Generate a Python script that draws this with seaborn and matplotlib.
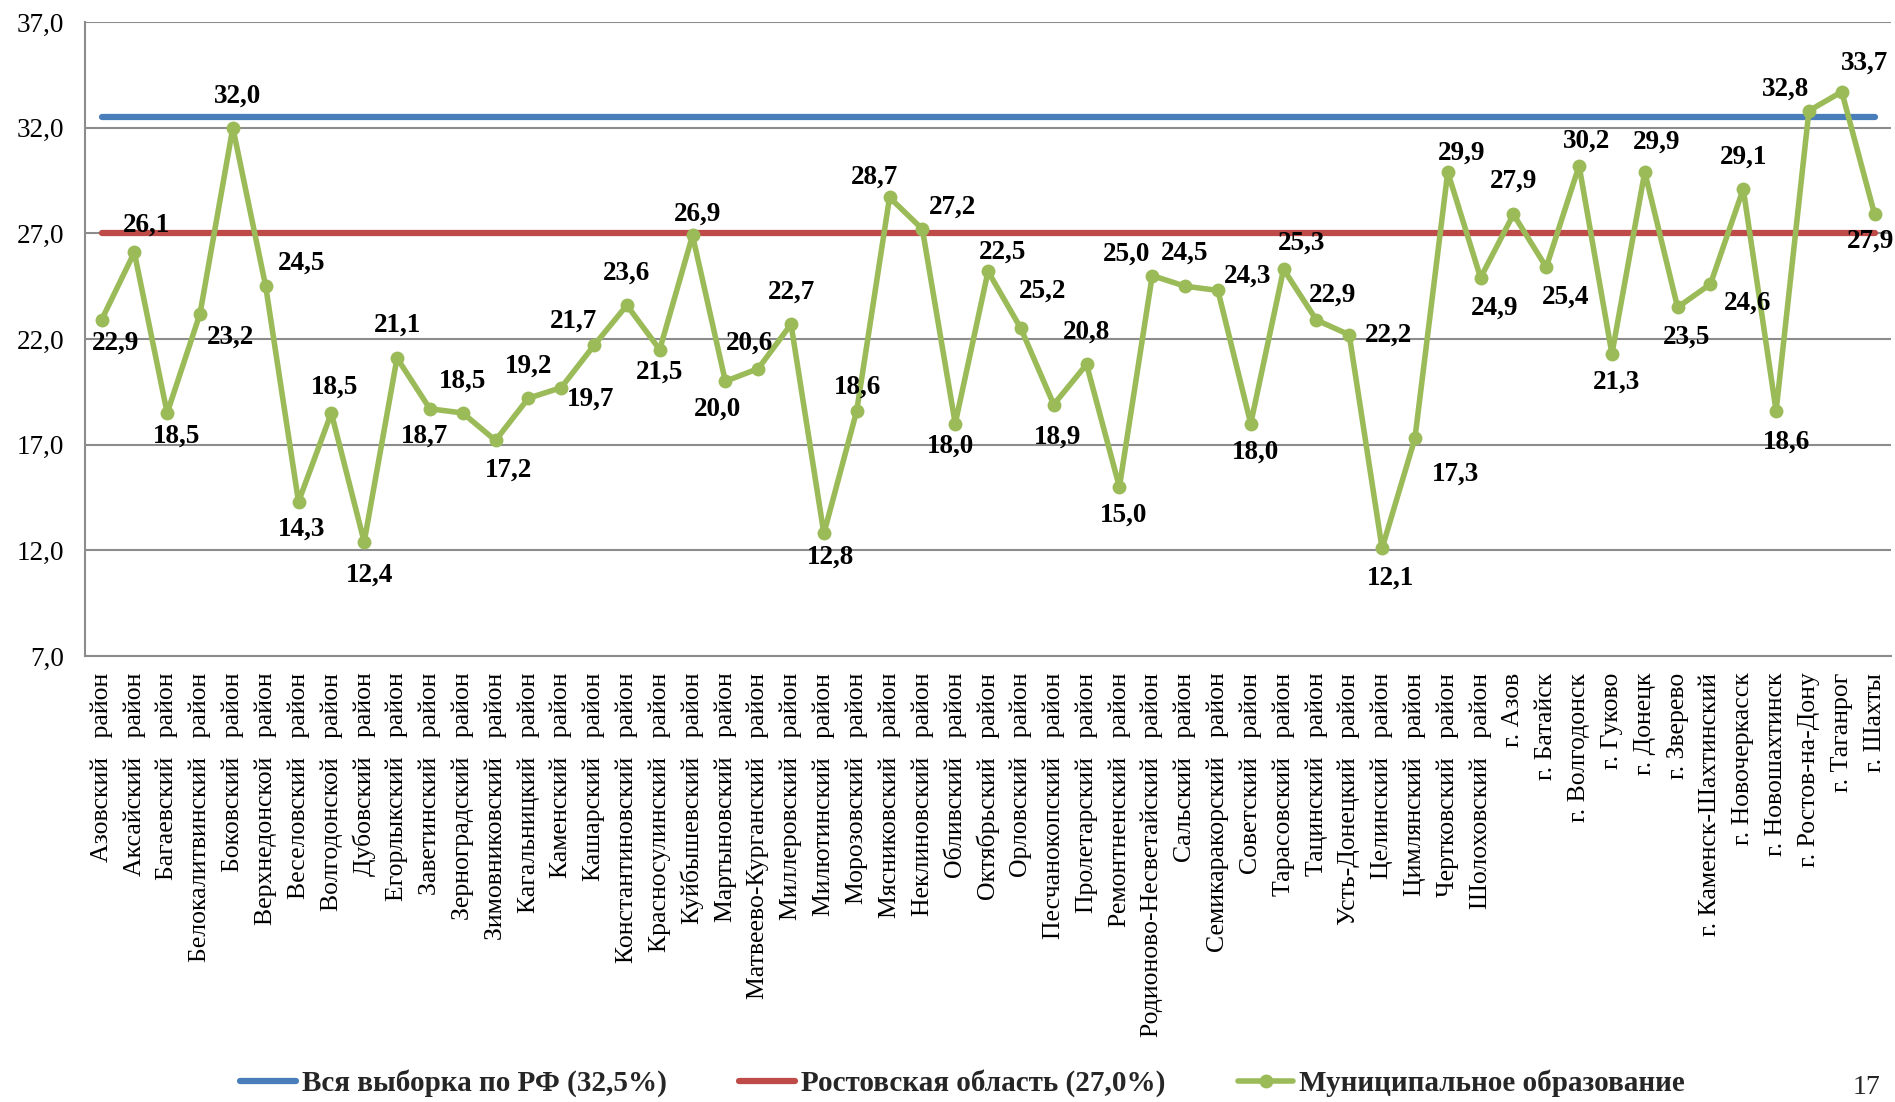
import numpy as np
import pandas as pd
from matplotlib import pyplot as plt
from matplotlib.lines import Line2D
from matplotlib.ticker import FuncFormatter
import seaborn as sns

districts = [
    "Азовский район", "Аксайский район", "Багаевский район", "Белокалитвинский район",
    "Боковский район", "Верхнедонской район", "Веселовский район", "Волгодонской район",
    "Дубовский район", "Егорлыкский район", "Заветинский район", "Зерноградский район",
    "Зимовниковский район", "Кагальницкий район", "Каменский район", "Кашарский район",
    "Константиновский район", "Красносулинский район", "Куйбышевский район",
    "Мартыновский район", "Матвеево-Курганский район", "Миллеровский район",
    "Милютинский район", "Морозовский район", "Мясниковский район", "Неклиновский район",
    "Обливский район", "Октябрьский район", "Орловский район", "Песчанокопский район",
    "Пролетарский район", "Ремонтненский район", "Родионово-Несветайский район",
    "Сальский район", "Семикаракорский район", "Советский район", "Тарасовский район",
    "Тацинский район", "Усть-Донецкий район", "Целинский район", "Цимлянский район",
    "Чертковский район", "Шолоховский район", "г. Азов", "г. Батайск", "г. Волгодонск",
    "г. Гуково", "г. Донецк", "г. Зверево", "г. Каменск-Шахтинский", "г. Новочеркасск",
    "г. Новошахтинск", "г. Ростов-на-Дону", "г. Таганрог", "г. Шахты",
]
values = [
    22.9, 26.1, 18.5, 23.2, 32.0, 24.5, 14.3, 18.5, 12.4, 21.1, 18.7, 18.5, 17.2, 19.2,
    19.7, 21.7, 23.6, 21.5, 26.9, 20.0, 20.6, 22.7, 12.8, 18.6, 28.7, 27.2, 18.0, 25.2,
    22.5, 18.9, 20.8, 15.0, 25.0, 24.5, 24.3, 18.0, 25.3, 22.9, 22.2, 12.1, 17.3, 29.9,
    24.9, 27.9, 25.4, 30.2, 21.3, 29.9, 23.5, 24.6, 29.1, 18.6, 32.8, 33.7, 27.9,
]
rf_level = 32.5
region_level = 27.0
series_names = ["Вся выборка по РФ (32,5%)", "Ростовская область (27,0%)",
                "Муниципальное образование"]

# label placement relative to each point, pixels (dx right, dy down)
label_dx = [14, 12, 9, 30, 5, 36, 3, 3, 5, 0, -5, 0, 13, 0, 29, -21, 0, 0, 5,
            -8, -9, 0, 7, 1, -15, 30, -5, 55, -18, 4, 0, 4, -26, 0, 30, 5, 18, 16,
            39, 8, 41, 14, 14, 0, 19, 7, 5, 12, 9, 37, 0, 10, -23, 23, -4]
label_dy = [23, -27, 23, 24, -32, -23, 27, -26, 33, -33, 27, -32, 30, -32, 12, -24, -32,
            23, -21, 28, -25, -32, 24, -24, -20, -22, 23, 20, -76, 33, -32, 28, -21,
            -33, -14, 29, -26, -25, 0, 30, 36, -19, 30, -33, 30, -25, 28, -30, 30, 19,
            -32, 31, -22, -29, 27]

blue = "#4a7ebb"
red = "#be4b48"
green = "#9bbb59"
grey = "#8c8c8c"

n = len(districts)
df = pd.DataFrame({"pos": np.arange(n), "name": districts, "value": values})
df["rf"] = rf_level
df["region"] = region_level

sns.set_theme(style="white")
plt.rcParams["font.family"] = ["Liberation Serif", "DejaVu Serif"]

fig = plt.figure(figsize=(18.95, 11.02), dpi=100)
ax = fig.add_axes([0.0449, 0.4047, 0.953, 0.5753])

sns.lineplot(data=df, x="pos", y="rf", color=blue, lw=4.5, ax=ax,
             solid_capstyle="round", zorder=3)
sns.lineplot(data=df, x="pos", y="region", color=red, lw=4.5, ax=ax,
             solid_capstyle="round", zorder=3)
sns.lineplot(data=df, x="pos", y="value", color=green, lw=4, marker="o",
             markersize=10, markeredgewidth=0, ax=ax, zorder=4)

for i, v in enumerate(values):
    ax.annotate(f"{v:.1f}".replace(".", ","), (i, v),
                xytext=(label_dx[i], -label_dy[i]), textcoords="offset pixels",
                ha="center", va="center", fontsize=19.5, fontweight="bold",
                color="black", zorder=5)

ax.set_xlim(-0.5, n - 0.5)
ax.set_ylim(7, 37)
ax.set_yticks(np.arange(7, 38, 5))
ax.yaxis.set_major_formatter(FuncFormatter(lambda v, p: f"{v:.1f}".replace(".", ",")))
ax.yaxis.grid(True, color=grey, lw=1.5)
ax.set_axisbelow(True)

ax.set_xticks(np.arange(n))
ax.set_xticklabels([d.replace(" район", "   район") for d in districts],
                   rotation=90, fontsize=18.5, color="black")
ax.set_xticks(np.arange(-0.5, n, 1), minor=True)
ax.tick_params(axis="x", which="major", length=0, pad=12)
ax.tick_params(axis="x", which="minor", length=7, width=1.3, color=grey, direction="out")
ax.tick_params(axis="y", length=7, width=1.3, color=grey, direction="out",
               labelsize=19.5, pad=8, labelcolor="black")
ax.set_xlabel("")
ax.set_ylabel("")

for side in ["top", "right"]:
    ax.spines[side].set_visible(False)
for side in ["left", "bottom"]:
    ax.spines[side].set_color(grey)
    ax.spines[side].set_linewidth(1.5)

handles = [
    Line2D([0], [0], color=blue, lw=4.5, solid_capstyle="round"),
    Line2D([0], [0], color=red, lw=4.5, solid_capstyle="round"),
    Line2D([0], [0], color=green, lw=4, marker="o", markersize=10, markeredgewidth=0),
]
fig.legend(handles, series_names, loc="center", bbox_to_anchor=(0.508, 0.017), ncol=3,
           frameon=False, handlelength=1.9, columnspacing=2.5, handletextpad=0.2,
           prop={"family": "Liberation Serif", "weight": "bold", "size": 21})

fig.text(0.985, 0.002, "17", ha="center", va="bottom", fontsize=20)

plt.savefig("out.png", dpi=100)
